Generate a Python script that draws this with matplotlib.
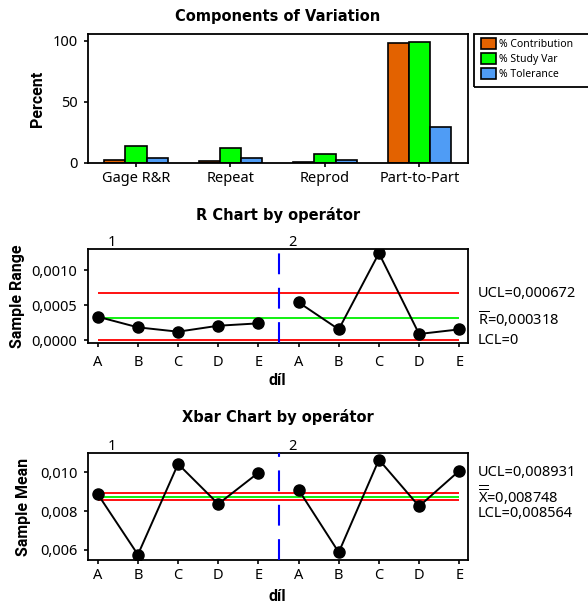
import matplotlib
matplotlib.use("Agg")
import matplotlib.pyplot as plt
import numpy as np
from matplotlib.patches import Patch, Rectangle

plt.rcParams["font.family"] = ["Noto Sans", "DejaVu Sans"]
plt.rcParams["mathtext.fontset"] = "custom"
plt.rcParams["mathtext.rm"] = "Noto Sans"
plt.rcParams["mathtext.default"] = "rm"

# ── data ──
COMPONENTS = ["Gage R&R", "Repeat", "Reprod", "Part-to-Part"]
PCT_CONTRIBUTION = [1.96, 1.49, 0.47, 98.04]
PCT_STUDY_VAR = [14.0, 12.2, 6.9, 99.0]
PCT_TOLERANCE = [4.1, 3.6, 2.0, 29.3]

PARTS = ["A", "B", "C", "D", "E"]
OPERATORS = ["1", "2"]
R_OP1 = [0.000333, 0.000181, 0.000119, 0.000204, 0.000238]
R_OP2 = [0.000538, 0.000152, 0.001240, 0.000086, 0.000152]
R_UCL, R_BAR, R_LCL = 0.000672, 0.000318, 0.0

XBAR_OP1 = [0.00888, 0.00576, 0.01043, 0.00837, 0.00998]
XBAR_OP2 = [0.00910, 0.00588, 0.01065, 0.00825, 0.01008]
X_UCL, X_BAR, X_LCL = 0.008931, 0.008748, 0.008564

ORANGE, GREEN, BLUE = "#E36200", "#00FF00", "#4F9CF5"
LIM_RED, LIM_GREEN = "#FF1010", "#10F010"

W, H = 588, 604
def fx(px): return px / W
def fy(px): return 1 - px / H
def box(left, top, right, bottom):
    return [fx(left), fy(bottom), (right - left) / W, (bottom - top) / H]

TITLE_FONT = dict(family="DejaVu Sans", fontweight="bold", fontsize=10.5)
LABEL_FONT = dict(family=["Roboto", "DejaVu Sans"], fontweight="bold", fontsize=11.5)

fig = plt.figure(figsize=(W / 100, H / 100), dpi=100)


def style_axes(ax):
    for s in ax.spines.values():
        s.set_linewidth(1.3)
    ax.tick_params(direction="out", length=3.2, width=1.2, labelsize=10.5, pad=4.3)


# ── 1. Components of Variation ──
ax = fig.add_axes(box(87.7, 34.3, 467.7, 162.7))
x = np.arange(len(COMPONENTS))
w = 0.225
ax.bar(x - w, PCT_CONTRIBUTION, w, color=ORANGE, edgecolor="black", linewidth=1.2)
ax.bar(x, PCT_STUDY_VAR, w, color=GREEN, edgecolor="black", linewidth=1.2)
ax.bar(x + w, PCT_TOLERANCE, w, color=BLUE, edgecolor="black", linewidth=1.2)
ax.set_xlim(-0.51, 3.51); ax.set_ylim(0, 105.5)
ax.set_yticks([0, 50, 100])
ax.set_xticks(x); ax.set_xticklabels(COMPONENTS)
style_axes(ax)
ax.tick_params(axis="x", pad=2.5)
ax.set_ylabel("Percent", **LABEL_FONT, va="center")
ax.yaxis.set_label_coords(-0.1322, 0.5)
fig.text(fx(277.7), fy(17), "Components of Variation", ha="center", va="center", **TITLE_FONT)

handles = [Patch(facecolor=c, edgecolor="black", linewidth=1.2, label=l)
           for c, l in zip([ORANGE, GREEN, BLUE], ["% Contribution", "% Study Var", "% Tolerance"])]
fig.legend(handles=handles, loc="upper left", bbox_to_anchor=(fx(480.5), fy(37.5)),
           frameon=False, fontsize=7.5, handlelength=1.45, handleheight=1.25,
           handletextpad=0.35, labelspacing=0.3, borderpad=0, borderaxespad=0)
fig.add_artist(Rectangle((fx(474), fy(87.3)), (600 - 474) / W, (87.3 - 34.3) / H,
                         transform=fig.transFigure, fill=False, lw=1.3, ec="black", clip_on=False))


def control_chart(ax, op1, op2, ucl, center, lcl, labels, label_dy, ylim, yticks, yfmt,
                  ylabel, ylabel_x, xlabel_y, xtick_pad):
    n = len(PARTS)
    pos1 = np.arange(n)
    pos2 = np.arange(n, 2 * n)
    for y, c in [(ucl, LIM_RED), (center, LIM_GREEN), (lcl, LIM_RED)]:
        ax.hlines(y, 0, 2 * n - 1, color=c, linewidth=1.4, zorder=2)
    ax.axvline(n - 0.5, color="#0000FF", linewidth=1.5, dashes=(10, 6.5), zorder=3)
    for pos, vals in [(pos1, op1), (pos2, op2)]:
        ax.plot(pos, vals, color="black", linewidth=1.4, marker="o", markersize=8, zorder=4)
    ax.set_xlim(-0.25, 9.21); ax.set_ylim(*ylim)
    ax.set_xticks(np.arange(2 * n)); ax.set_xticklabels(PARTS * 2)
    ax.set_yticks(yticks)
    ax.set_yticklabels([yfmt.format(v).replace(".", ",") for v in yticks])
    style_axes(ax)
    ax.tick_params(axis="x", pad=xtick_pad)
    for xo, op in zip([0.36, 4.84], OPERATORS):
        ax.annotate(op, xy=(xo, 1), xycoords=("data", "axes fraction"), xytext=(0, 2.5),
                    textcoords="offset points", ha="center", va="baseline", fontsize=10.5)
    for y, txt, dy in zip([ucl, center, lcl], labels, label_dy):
        ax.annotate(txt, xy=(1, y), xycoords=("axes fraction", "data"), xytext=(7.5, dy),
                    textcoords="offset points", ha="left", va="center", fontsize=10.5,
                    annotation_clip=False)
    ax.set_ylabel(ylabel, **LABEL_FONT, va="center")
    ax.yaxis.set_label_coords(ylabel_x, 0.5)
    ax.set_xlabel("díl", **LABEL_FONT, va="center")
    ax.xaxis.set_label_coords(0.5, xlabel_y)


# ── 2. R chart ──
ax = fig.add_axes(box(87.7, 249.3, 467.7, 343.3))
control_chart(ax, R_OP1, R_OP2, R_UCL, R_BAR, R_LCL,
              ["UCL=0,000672", r"$\overline{R}$=0,000318", "LCL=0"], [-0.7, -1.0, -0.5],
              (-0.000047, 0.001296), [0.0, 0.0005, 0.0010], "{:.4f}",
              "Sample Range", -0.1847, -0.40, 5.0)
fig.text(fx(277.7), fy(215), "R Chart by operátor", ha="center", va="center", **TITLE_FONT)

# ── 3. Xbar chart ──
ax = fig.add_axes(box(87.7, 453.3, 467.7, 560))
control_chart(ax, XBAR_OP1, XBAR_OP2, X_UCL, X_BAR, X_LCL,
              ["UCL=0,008931", r"$\overline{\overline{X}}$=0,008748", "LCL=0,008564"],
              [14.5, 1.0, -9.5],
              (0.005485, 0.01098), [0.006, 0.008, 0.010], "{:.3f}",
              "Sample Mean", -0.1695, -0.344, 2.5)
fig.text(fx(277.7), fy(417.3), "Xbar Chart by operátor", ha="center", va="center", **TITLE_FONT)

fig.savefig("out.png", dpi=100)
plt.close(fig)
